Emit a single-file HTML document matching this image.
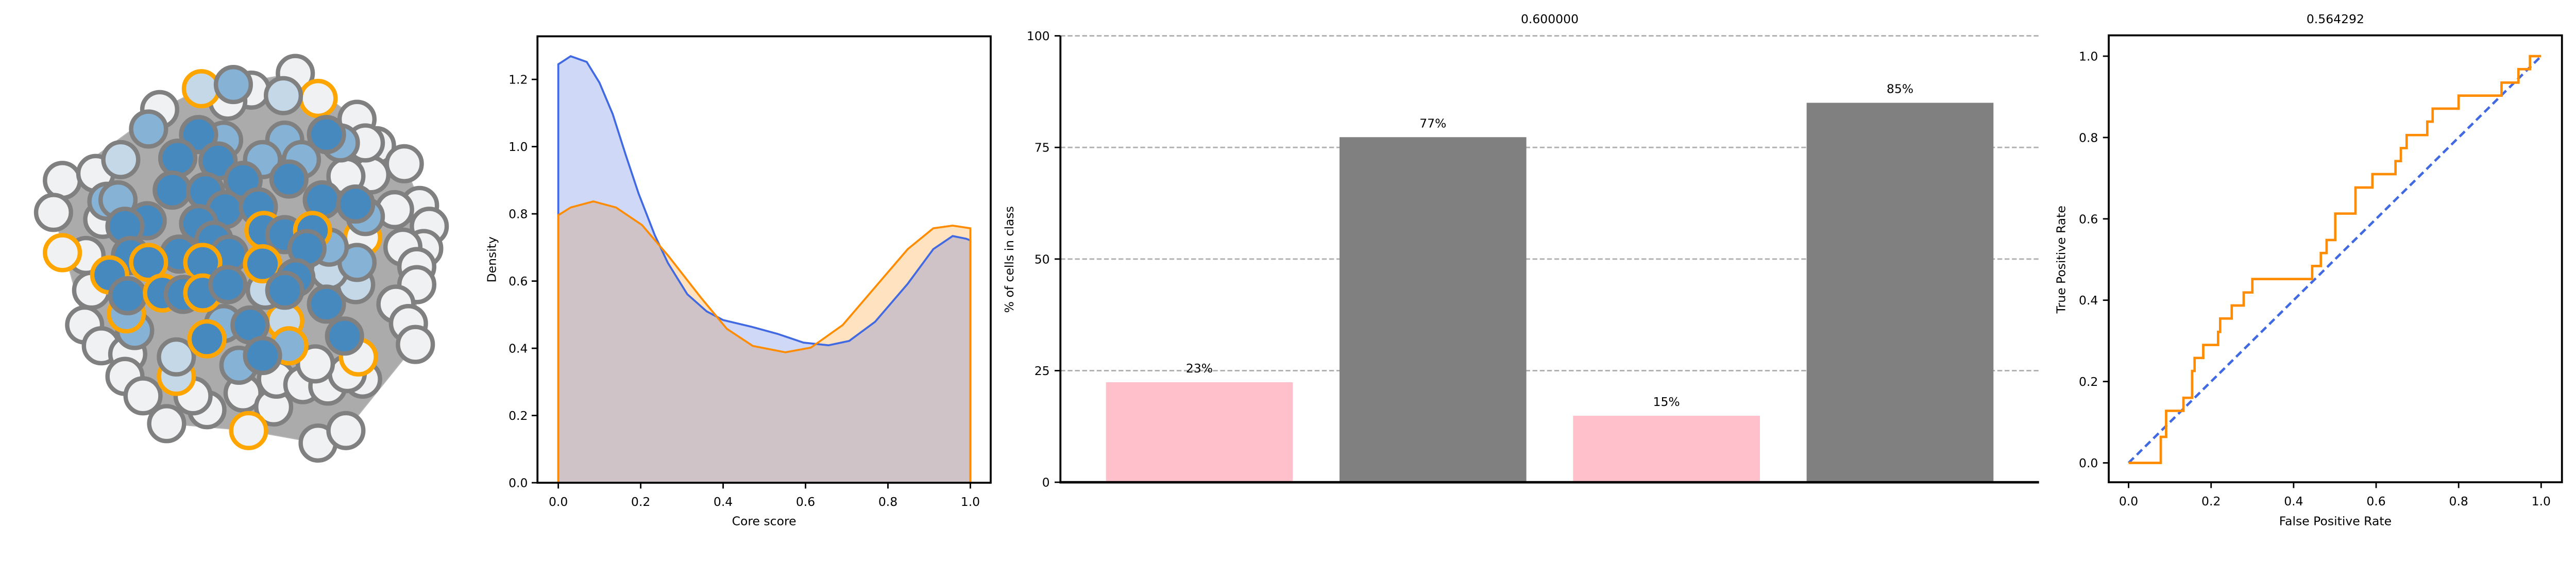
<!DOCTYPE html>
<html><head><meta charset="utf-8"><style>
html,body{margin:0;padding:0;background:#fff;width:100%;height:100%;overflow:hidden;}
svg{display:block;width:100vw;height:100vh;font-family:"DejaVu Sans","Liberation Sans",sans-serif;}
</style></head><body>
<svg id="fig" viewBox="0 0 5320 1120" preserveAspectRatio="xMidYMin meet" xmlns="http://www.w3.org/2000/svg">
<g id="net"></g>
<g id="kde"></g>
<g id="bar"></g>
<g id="roc"></g>
</svg>
<script>
// ---------- data ----------
const kdeBlueX=[0,0.03,0.069,0.1,0.132,0.164,0.195,0.234,0.266,0.313,0.36,0.4,0.469,0.532,0.595,0.656,0.706,0.769,0.848,0.91,0.957,0.99,1.0];
const kdeBlueY=[1.245,1.269,1.252,1.19,1.097,0.974,0.86,0.737,0.654,0.561,0.51,0.484,0.464,0.443,0.417,0.409,0.422,0.479,0.592,0.695,0.734,0.726,0.721];
const kdeOrangeX=[0,0.03,0.085,0.14,0.203,0.267,0.346,0.409,0.472,0.551,0.613,0.69,0.769,0.848,0.91,0.957,1.0];
const kdeOrangeY=[0.796,0.819,0.837,0.819,0.767,0.675,0.551,0.458,0.407,0.388,0.402,0.469,0.582,0.695,0.757,0.765,0.757];
const kdeXTicks=[0,0.2,0.4,0.6,0.8,1.0];
const kdeYTicks=[0,0.2,0.4,0.6,0.8,1.0,1.2];

const barCats=[0,1,2,3];
const barValues=[22.4,77.3,14.9,85.0];
const barLabels=["23%","77%","15%","85%"];
const barColors=["pink","#808080","pink","#808080"];
const barYTicks=[0,25,50,75,100];
const barTitle="0.600000";

const rocFpr=[0,0.078,0.078,0.091,0.091,0.133,0.133,0.154,0.154,0.16,0.16,0.181,0.181,0.217,0.217,0.222,0.222,0.25,0.25,0.279,0.279,0.3,0.3,0.445,0.445,0.466,0.466,0.48,0.48,0.501,0.501,0.55,0.55,0.591,0.591,0.647,0.647,0.66,0.66,0.674,0.674,0.724,0.724,0.737,0.737,0.8,0.8,0.904,0.904,0.945,0.945,0.973,0.973,1.0];
const rocTpr=[0,0,0.064,0.064,0.128,0.128,0.16,0.16,0.226,0.226,0.258,0.258,0.29,0.29,0.322,0.322,0.355,0.355,0.387,0.387,0.419,0.419,0.452,0.452,0.484,0.484,0.516,0.516,0.548,0.548,0.613,0.613,0.677,0.677,0.71,0.71,0.742,0.742,0.774,0.774,0.806,0.806,0.839,0.839,0.871,0.871,0.903,0.903,0.935,0.935,0.968,0.968,1.0,1.0];
const rocTicks=[0,0.2,0.4,0.6,0.8,1.0];
const rocTitle="0.564292";

const nodes=[
[958,90,'w','g'],[800,150,'w','g'],[470,220,'w','g'],[1180,255,'w','g'],[1250,350,'w','g'],[1350,415,'w','g'],[120,475,'w','g'],[88,590,'w','g'],[1405,565,'w','g'],[1440,640,'w','g'],[1315,580,'w','g'],[1420,720,'w','g'],[1345,715,'w','g'],[1395,785,'w','g'],[1395,850,'w','g'],[1320,920,'w','g'],[1365,990,'w','g'],[1390,1065,'w','g'],[200,995,'w','g'],[260,1070,'w','g'],[355,1100,'w','g'],[345,1180,'w','g'],[410,1250,'w','g'],[495,1350,'w','g'],[640,1300,'w','g'],[590,1250,'w','g'],[770,1240,'w','g'],[880,1290,'w','g'],[890,1190,'w','g'],[985,1210,'w','g'],[1075,1215,'w','g'],[1200,1190,'w','g'],[1145,1170,'w','g'],[1040,1420,'w','g'],[1140,1375,'w','g'],[1030,1135,'w','g'],[205,745,'w','g'],[225,870,'w','g'],[240,450,'w','g'],[265,615,'w','g'],[1230,455,'w','g'],[1210,340,'w','g'],[1140,460,'w','g'],[715,190,'w','g'],
[120,735,'w','o'],[1040,180,'w','o'],[790,1375,'w','o'],[1185,1110,'w','o'],[1200,680,'w','o'],
[330,400,'l','g'],[620,145,'l','o'],[915,170,'l','g'],[530,1180,'l','o'],[530,1110,'l','g'],[1175,850,'l','g'],[920,980,'l','o'],[1080,800,'l','g'],[850,870,'l','g'],
[735,130,'m','g'],[430,290,'m','g'],[280,550,'m','g'],[320,545,'m','g'],[700,330,'m','g'],[920,330,'m','g'],[980,400,'m','g'],[1120,340,'m','g'],[840,400,'m','g'],[1210,605,'m','g'],[1180,770,'m','g'],[1080,715,'m','g'],[935,1070,'m','o'],[380,1015,'m','g'],[350,955,'m','o'],[700,990,'m','g'],[755,1140,'m','g'],
[610,310,'d','g'],[1070,310,'d','g'],[535,395,'d','g'],[680,405,'d','g'],[515,510,'d','g'],[635,515,'d','g'],[770,475,'d','g'],[935,470,'d','g'],[1055,545,'d','g'],[1175,560,'d','g'],[705,580,'d','g'],[825,570,'d','g'],[425,620,'d','g'],[345,640,'d','g'],[610,630,'d','g'],[665,690,'d','g'],[845,655,'d','o'],[920,670,'d','g'],[1020,655,'d','o'],[1000,720,'d','g'],[720,740,'d','g'],[540,740,'d','g'],[365,745,'d','g'],[430,770,'d','o'],[290,815,'d','o'],[625,770,'d','o'],[840,775,'d','o'],[960,825,'d','g'],[355,890,'d','g'],[480,880,'d','o'],[555,885,'d','g'],[625,880,'d','o'],[715,850,'d','g'],[920,870,'d','g'],[1070,920,'d','g'],[795,995,'d','g'],[640,1045,'d','o'],[840,1105,'d','g'],[1135,1035,'d','g']
];
const hull=[[120,475],[470,220],[620,145],[958,90],[1180,255],[1350,415],[1440,640],[1395,850],[1390,1065],[1140,1375],[1040,1420],[790,1375],[495,1350],[345,1180],[200,995],[88,590]];

const NS="http://www.w3.org/2000/svg";
function mk(parent,tag,attrs,text){const e=document.createElementNS(NS,tag);for(const k in attrs)e.setAttribute(k,attrs[k]);if(text!==undefined)e.textContent=text;parent.appendChild(e);return e;}
function lin(d0,d1,p0,p1){return v=>p0+(v-d0)*(p1-p0)/(d1-d0);}

// ---------- network ----------
(function(){
 const g=document.getElementById('net');
 const nx=v=>60+v*0.574, ny=v=>100+v*0.574;
 const hp=mk(g,'polygon',{points:hull.map(p=>nx(p[0])+','+ny(p[1])).join(' '),fill:'#ababab',stroke:'#b5b5b5','stroke-width':2});
 
 
 const fills={w:'#eff1f3',l:'#c4d8e8',m:'#86b2d5',d:'#4589bf'};
 const strokes={g:'#808080',o:'#ffa500'};
 nodes.forEach(n=>{
  const c=mk(g,'circle',{cx:nx(n[0]),cy:ny(n[1]),r:36,fill:fills[n[2]],stroke:strokes[n[3]],'stroke-width':9});
  
  
 });
})();

// ---------- KDE ----------
(function(){
 const g=document.getElementById('kde');
 const L=1110,R=2046,T=75,B=997;
 const x=lin(0,1,1153,2004), y=lin(0,1.2,997,164);
 function pathOf(xs,ys,close){
  let d='M'+x(xs[0])+','+y(0);
  xs.forEach((v,i)=>d+=' L'+x(v)+','+y(ys[i]));
  d+=' L'+x(xs[xs.length-1])+','+y(0)+(close?' Z':'');
  return d;
 }
 const fo=mk(g,'path',{d:pathOf(kdeOrangeX,kdeOrangeY,true),fill:'rgba(255,140,0,0.25)'});
 
 
 const fb=mk(g,'path',{d:pathOf(kdeBlueX,kdeBlueY,true),fill:'rgba(65,105,225,0.25)'});
 
 
 const lb=mk(g,'path',{d:pathOf(kdeBlueX,kdeBlueY,false),fill:'none',stroke:'#4169e1','stroke-width':4});
 
 
 const lo=mk(g,'path',{d:pathOf(kdeOrangeX,kdeOrangeY,false),fill:'none',stroke:'#ff8c00','stroke-width':4});
 
 
 const box=mk(g,'rect',{x:L,y:T,width:R-L,height:B-T,fill:'none',stroke:'#000','stroke-width':4});
 
 
 kdeXTicks.forEach(t=>{
  mk(g,'line',{x1:x(t),x2:x(t),y1:B,y2:B+12,stroke:'#000','stroke-width':3});
  const tl=mk(g,'text',{x:x(t),y:B+48,'font-size':25,'text-anchor':'middle'},t.toFixed(1));
  
  
 });
 kdeYTicks.forEach(t=>{
  mk(g,'line',{x1:L,x2:L-12,y1:y(t),y2:y(t),stroke:'#000','stroke-width':3});
  const tl=mk(g,'text',{x:L-20,y:y(t)+9,'font-size':25,'text-anchor':'end'},t.toFixed(1));
  
  
 });
 const xl=mk(g,'text',{x:(L+R)/2,y:1085,'font-size':25,'text-anchor':'middle'},'Core score');
 
 
 const yl=mk(g,'text',{x:0,y:0,'font-size':25,'text-anchor':'middle',transform:'translate(1024,536) rotate(-90)'},'Density');
 
 
})();

// ---------- Bar ----------
(function(){
 const g=document.getElementById('bar');
 const L=2190,R=4211,T=74,B=996;
 const x=lin(-0.595,3.595,L,R), y=lin(0,100,B,T);
 barYTicks.forEach(t=>{
  if(t>0){const gl=mk(g,'line',{x1:L,x2:R,y1:y(t),y2:y(t),stroke:'#b0b0b0','stroke-width':3,'stroke-dasharray':'10,5'});
  
  }
 });
 barCats.forEach((c,i)=>{
  const r=mk(g,'rect',{x:x(c-0.4),y:y(barValues[i]),width:x(c+0.4)-x(c-0.4),height:y(0)-y(barValues[i]),fill:barColors[i]});
  
  
  const t=mk(g,'text',{x:x(c),y:y(barValues[i])-20,'font-size':25,'text-anchor':'middle'},barLabels[i]);
  
  
 });
 mk(g,'line',{x1:L,x2:L,y1:T,y2:B,stroke:'#000','stroke-width':4});
 mk(g,'line',{x1:L-2,x2:R,y1:B,y2:B,stroke:'#000','stroke-width':5});
 barYTicks.forEach(t=>{
  mk(g,'line',{x1:L,x2:L-12,y1:y(t),y2:y(t),stroke:'#000','stroke-width':3});
  const tl=mk(g,'text',{x:L-22,y:y(t)+9,'font-size':25,'text-anchor':'end'},String(t));
  
  
 });
 const tt=mk(g,'text',{x:(L+R)/2,y:48,'font-size':25,'text-anchor':'middle'},barTitle);
 
 
 const yl=mk(g,'text',{x:0,y:0,'font-size':25,'text-anchor':'middle',transform:'translate(2093,536) rotate(-90)'},'% of cells in class');
 
 
})();

// ---------- ROC ----------
(function(){
 const g=document.getElementById('roc');
 const L=4355,R=5291,T=73,B=996;
 const x=lin(0,1,4396,5248), y=lin(0,1,956,116);
 const diag=mk(g,'line',{x1:x(0),y1:y(0),x2:x(1),y2:y(1),stroke:'#4169e1','stroke-width':5,'stroke-dasharray':'15,9'});
 
 
 let d='';
 rocFpr.forEach((v,i)=>d+=(i?' L':'M')+x(v)+','+y(rocTpr[i]));
 const c=mk(g,'path',{d:d,fill:'none',stroke:'#ff8c00','stroke-width':5});
 
 
 const box=mk(g,'rect',{x:L,y:T,width:R-L,height:B-T,fill:'none',stroke:'#000','stroke-width':4});
 
 
 rocTicks.forEach(t=>{
  mk(g,'line',{x1:x(t),x2:x(t),y1:B,y2:B+12,stroke:'#000','stroke-width':3});
  const a=mk(g,'text',{x:x(t),y:B+48,'font-size':25,'text-anchor':'middle'},t.toFixed(1));
  
  
  mk(g,'line',{x1:L,x2:L-12,y1:y(t),y2:y(t),stroke:'#000','stroke-width':3});
  const b=mk(g,'text',{x:L-22,y:y(t)+9,'font-size':25,'text-anchor':'end'},t.toFixed(1));
  
  
 });
 const tt=mk(g,'text',{x:(L+R)/2,y:48,'font-size':25,'text-anchor':'middle'},rocTitle);
 
 
 const xl=mk(g,'text',{x:(L+R)/2,y:1085,'font-size':25,'text-anchor':'middle'},'False Positive Rate');
 
 
 const yl=mk(g,'text',{x:0,y:0,'font-size':25,'text-anchor':'middle',transform:'translate(4265,536) rotate(-90)'},'True Positive Rate');
 
 
})();
</script>
</body></html>
